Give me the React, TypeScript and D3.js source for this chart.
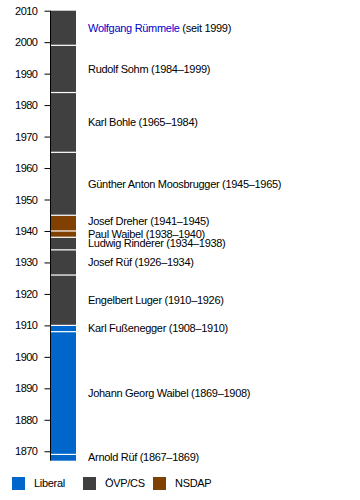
import * as d3 from "d3";
import { useEffect, useRef } from "react";

// mayors: name, label years, bar span, party
const names = [
  "Arnold Rüf", "Johann Georg Waibel", "Karl Fußenegger", "Engelbert Luger",
  "Josef Rüf", "Ludwig Rinderer", "Paul Waibel", "Josef Dreher",
  "Günther Anton Moosbrugger", "Karl Bohle", "Rudolf Sohm", "Wolfgang Rümmele",
];
const termText = [
  "(1867–1869)", "(1869–1908)", "(1908–1910)", "(1910–1926)",
  "(1926–1934)", "(1934–1938)", "(1938–1940)", "(1941–1945)",
  "(1945–1965)", "(1965–1984)", "(1984–1999)", "(seit 1999)",
];
const termFrom = [1867, 1869, 1908, 1910, 1926, 1934, 1938, 1941, 1945, 1965, 1984, 1999];
const termTo = [1869, 1908, 1910, 1926, 1934, 1938, 1940, 1945, 1965, 1984, 1999, 2010];
// bar segment starts (the Dreher bar is drawn from 1940)
const barFrom = [1867, 1869, 1908, 1910, 1926, 1934, 1938, 1940, 1945, 1965, 1984, 1999];
const parties = ["Liberal", "Liberal", "Liberal", "ÖVP/CS", "ÖVP/CS", "ÖVP/CS", "NSDAP", "NSDAP", "ÖVP/CS", "ÖVP/CS", "ÖVP/CS", "ÖVP/CS"];

const legendNames = ["Liberal", "ÖVP/CS", "NSDAP"];
const legendColors = ["#0066cc", "#404040", "#804000"];
const yearTicks = d3.range(1870, 2011, 10);

const FONT = "Liberation Sans, Arial, sans-serif";

const App = () => {
  const ref = useRef<SVGSVGElement>(null);

  useEffect(() => {
    const svg = d3.select(ref.current);
    svg.selectAll("*").remove();

    const color = d3.scaleOrdinal<string, string>().domain(legendNames).range(legendColors);
    const y = d3.scaleLinear().domain([1867, 2010]).range([460.7, 10.7]);
    const barX = 51, barW = 25;

    const idx = d3.range(names.length);

    // bar segments
    svg.append("g")
      .selectAll("rect")
      .data(idx)
      .join("rect")
      .attr("x", barX)
      .attr("width", barW)
      .attr("y", (i) => y(termTo[i]))
      .attr("height", (i) => y(barFrom[i]) - y(termTo[i]))
      .attr("fill", (i) => color(parties[i]));

    // white separators
    svg.append("g")
      .selectAll("line")
      .data(idx.slice(1))
      .join("line")
      .attr("x1", barX)
      .attr("x2", barX + barW)
      .attr("y1", (i) => y(barFrom[i]))
      .attr("y2", (i) => y(barFrom[i]))
      .attr("stroke", "#fff")
      .attr("stroke-width", 1.2);

    // axis
    const axis = svg.append("g")
      .attr("transform", "translate(50.5,0)")
      .call(d3.axisLeft(y).tickValues(yearTicks).tickSize(6).tickPadding(7).tickFormat(d3.format("d")));
    axis.select(".domain").attr("d", `M0,${y(2010)}V${y(1867)}`).attr("stroke", "#000");
    axis.selectAll(".tick line").attr("stroke", "#000");
    axis.selectAll("text")
      .attr("font-family", FONT)
      .attr("font-size", 11)
      .attr("letter-spacing", -0.5)
      .attr("fill", "#000");

    // labels
    const labels = svg.append("g")
      .attr("font-family", FONT)
      .attr("font-size", 11)
      .attr("letter-spacing", -0.3)
      .selectAll("text")
      .data(idx)
      .join("text")
      .attr("x", 88)
      .attr("y", (i) => y((termFrom[i] + termTo[i]) / 2))
      .attr("dy", "0.35em");
    labels.append("tspan")
      .attr("fill", (i) => (i === names.length - 1 ? "#0000cc" : "#000"))
      .text((i) => names[i]);
    labels.append("tspan")
      .attr("fill", "#000")
      .text((i) => " " + termText[i]);

    // legend
    const legendX = [12, 83, 153];
    const lg = svg.append("g")
      .selectAll("g")
      .data(legendNames)
      .join("g")
      .attr("transform", (_d, i) => `translate(${legendX[i]},477)`);
    lg.append("rect").attr("width", 13).attr("height", 13).attr("fill", (d) => color(d));
    lg.append("text")
      .attr("x", 22)
      .attr("y", 6.5)
      .attr("dy", "0.35em")
      .attr("font-family", FONT)
      .attr("font-size", 11)
      .attr("letter-spacing", -0.3)
      .text((d) => d);
  }, []);

  return (
    <div style={{ position: "absolute", left: 0, top: 0 }}>
      <svg ref={ref} width={360} height={500} style={{ display: "block", background: "#fff" }}></svg>
    </div>
  );
};

export default App;
